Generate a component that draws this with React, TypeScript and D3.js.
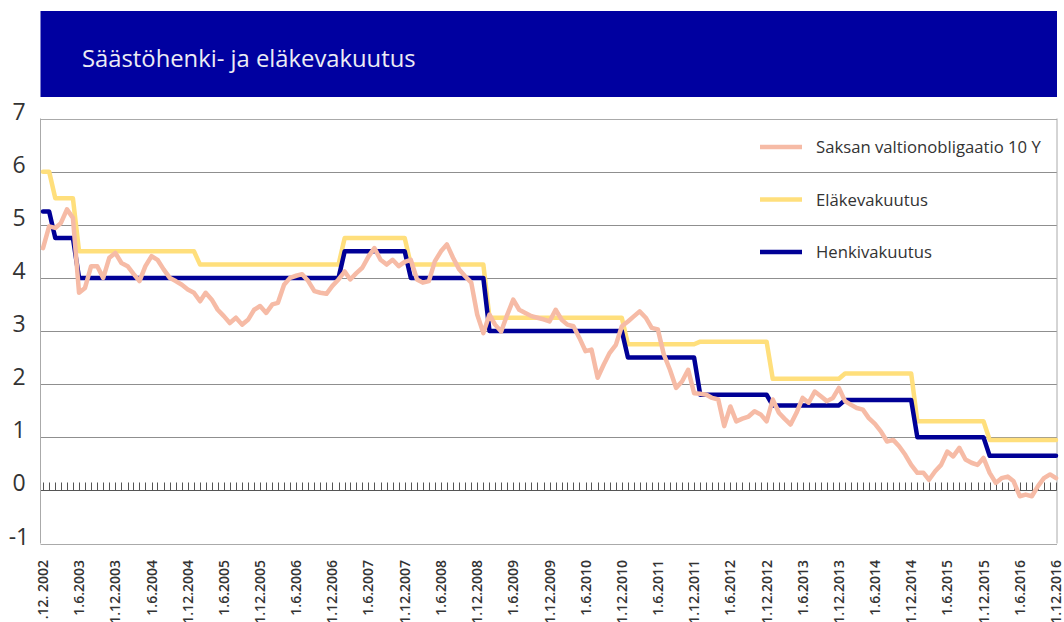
import React, { useRef, useEffect } from "react";
import * as d3 from "d3";

// Saksan valtionobligaatio 10 Y, kuukausittain 12/2002 - 12/2016
const saksan10y = [
  4.56,
  4.97, 4.94, 5.03, 5.29, 5.13, 3.72, 3.81, 4.22, 4.22, 4.0, 4.38, 4.47, // 2003
  4.28, 4.22, 4.08, 3.94, 4.22, 4.41, 4.34, 4.16, 4.0, 3.94, 3.87, 3.78, // 2004
  3.72, 3.56, 3.72, 3.59, 3.4, 3.28, 3.15, 3.25, 3.12, 3.21, 3.4, 3.47, // 2005
  3.34, 3.5, 3.53, 3.87, 4.0, 4.04, 4.07, 3.94, 3.75, 3.72, 3.7, 3.85, // 2006
  3.97, 4.12, 3.97, 4.09, 4.19, 4.4, 4.56, 4.34, 4.25, 4.34, 4.22, 4.3, // 2007
  4.34, 3.97, 3.91, 3.94, 4.31, 4.5, 4.63, 4.38, 4.16, 4.03, 3.91, 3.31, // 2008
  2.96, 3.31, 3.12, 2.99, 3.3, 3.59, 3.4, 3.34, 3.28, 3.25, 3.22, 3.18, // 2009
  3.4, 3.21, 3.12, 3.09, 2.87, 2.62, 2.65, 2.12, 2.37, 2.59, 2.74, 3.09, // 2010
  3.18, 3.28, 3.37, 3.25, 3.06, 3.03, 2.56, 2.27, 1.93, 2.05, 2.27, 1.83, // 2011
  1.82, 1.8, 1.74, 1.71, 1.21, 1.58, 1.3, 1.35, 1.39, 1.49, 1.43, 1.3, // 2012
  1.71, 1.46, 1.35, 1.24, 1.46, 1.74, 1.65, 1.86, 1.77, 1.68, 1.74, 1.93, // 2013
  1.68, 1.61, 1.55, 1.52, 1.36, 1.25, 1.11, 0.92, 0.95, 0.83, 0.67, 0.48, // 2014
  0.33, 0.33, 0.2, 0.36, 0.48, 0.73, 0.64, 0.8, 0.58, 0.52, 0.48, 0.61, // 2015
  0.33, 0.14, 0.23, 0.26, 0.17, -0.11, -0.08, -0.11, 0.08, 0.23, 0.3, 0.23, // 2016
];

// korkomuutokset: [kuukausi, korko]
const elakeSteps: [string, number][] = [
  ["2002-12", 6.0], ["2003-02", 5.5], ["2003-06", 4.5], ["2005-02", 4.25],
  ["2007-02", 4.75], ["2008-01", 4.25], ["2009-02", 3.25], ["2011-01", 2.75],
  ["2012-01", 2.8], ["2013-01", 2.1], ["2014-01", 2.2], ["2015-01", 1.3],
  ["2016-01", 0.95],
];
const henkiSteps: [string, number][] = [
  ["2002-12", 5.25], ["2003-02", 4.75], ["2003-06", 4.0], ["2007-02", 4.5],
  ["2008-01", 4.0], ["2009-02", 3.0], ["2011-01", 2.5], ["2012-01", 1.8],
  ["2013-01", 1.6], ["2014-01", 1.7], ["2015-01", 1.0], ["2016-01", 0.65],
];

const xLabels = [
  "1.12. 2002", "1.6.2003", "1.12.2003", "1.6.2004", "1.12.2004", "1.6.2005",
  "1.12.2005", "1.6.2006", "1.12.2006", "1.6.2007", "1.12.2007", "1.6.2008",
  "1.12.2008", "1.6.2009", "1.12.2009", "1.6.2010", "1.12.2010", "1.6.2011",
  "1.12.2011", "1.6.2012", "1.12.2012", "1.6.2013", "1.12.2013", "1.6.2014",
  "1.12.2014", "1.6.2015", "1.12.2015", "1.6.2016", "1.12.2016",
];
const yTicks = [-1, 0, 1, 2, 3, 4, 5, 6, 7];

const seriesNames = ["Saksan valtionobligaatio 10 Y", "Eläkevakuutus", "Henkivakuutus"];
const colors = ["#f6bba6", "#ffdf7c", "#000096"];

const App = () => {
  const ref = useRef<SVGSVGElement>(null);

  useEffect(() => {
    const svg = d3.select(ref.current);
    svg.selectAll("*").remove();

    const parse = d3.timeParse("%Y-%m");
    const start = new Date(2002, 11, 1);
    const end = new Date(2016, 11, 1);
    const months = d3.timeMonth.range(start, d3.timeMonth.offset(end, 1));

    const expand = (steps: [string, number][]) =>
      months.map((m) => {
        let v = steps[0][1];
        steps.forEach(([d, r]) => {
          if (+parse(d)! <= +m) v = r;
        });
        return v;
      });

    const data = [saksan10y, expand(elakeSteps), expand(henkiSteps)];

    const left = 40.5, right = 1057;
    const x = d3.scaleTime().domain([start, end]).range([43, 1056]);
    const y = d3.scaleLinear().domain([-1, 7]).range([543.5, 118.5]);

    // otsikkopalkki
    svg.append("rect").attr("x", 40.5).attr("y", 11).attr("width", 1057 - 40.5)
      .attr("height", 86).attr("fill", "#0000a0");
    svg.append("text").attr("x", 82).attr("y", 67)
      .attr("fill", "#ececf4").attr("font-family", "'Open Sans', sans-serif")
      .attr("font-size", 23.8).text("Säästöhenki- ja eläkevakuutus");

    // ruudukko
    svg.append("g").selectAll("line").data(yTicks).join("line")
      .attr("x1", left).attr("x2", right)
      .attr("y1", (d) => Math.round(y(d)) + 0.5).attr("y2", (d) => Math.round(y(d)) + 0.5)
      .attr("stroke", (d) => (d === 0 ? "#555" : d === 7 || d === -1 ? "#aaa" : "#8f8f8f"))
      .attr("stroke-width", 1);
    svg.append("line").attr("x1", left).attr("x2", left).attr("y1", y(7)).attr("y2", y(-1))
      .attr("stroke", "#aaa");
    svg.append("line").attr("x1", right).attr("x2", right).attr("y1", y(7)).attr("y2", y(-1))
      .attr("stroke", "#aaa");

    // kuukausittaiset tikit nollaviivalla
    const y0 = Math.round(y(0)) + 0.5;
    svg.append("g").selectAll("line").data(months).join("line")
      .attr("x1", (d) => Math.round(x(d)) + 0.5).attr("x2", (d) => Math.round(x(d)) + 0.5)
      .attr("y1", y0 - 8).attr("y2", y0)
      .attr("stroke", "#555").attr("stroke-width", 1);

    // y-akselin numerot
    svg.append("g").selectAll("text").data(yTicks).join("text")
      .attr("x", 19).attr("y", (d) => y(d) + 1)
      .attr("text-anchor", "middle")
      .attr("font-family", "'Open Sans', sans-serif").attr("font-size", 23)
      .attr("fill", "#333").text((d) => d);

    // x-akselin päivämäärät
    svg.append("g").selectAll("text").data(xLabels).join("text")
      .attr("transform", (d, i) => `translate(${x(d3.timeMonth.offset(start, i * 6))},560) rotate(-90)`)
      .attr("dy", "0.36em")
      .attr("text-anchor", "end")
      .attr("font-family", "'Open Sans', sans-serif").attr("font-size", 14)
      .attr("font-weight", 600).attr("fill", "#333").text((d) => d);

    // viivat
    const line = d3.line<number>()
      .x((d, i) => x(months[i]))
      .y((d) => y(d));
    [1, 2, 0].forEach((k) => {
      svg.append("path").datum(data[k]).attr("d", line)
        .attr("fill", "none").attr("stroke", colors[k])
        .attr("stroke-width", 4.5)
        .attr("stroke-linejoin", "round").attr("stroke-linecap", "round");
    });

    // selite
    const lg = svg.append("g").selectAll("g").data(seriesNames).join("g")
      .attr("transform", (d, i) => `translate(760,${147 + i * 52.5})`);
    lg.append("line").attr("x1", 0).attr("x2", 42)
      .attr("stroke", (d, i) => colors[i]).attr("stroke-width", 4.5);
    lg.append("text").attr("x", 56).attr("dy", "0.36em")
      .attr("font-family", "'Open Sans', sans-serif").attr("font-size", 16.7)
      .attr("fill", "#333").text((d) => d);
  }, []);

  return (
    <svg ref={ref} width={1064} height={622}
      style={{ position: "absolute", left: 0, top: 0, background: "#fff" }} />
  );
};

export default App;
